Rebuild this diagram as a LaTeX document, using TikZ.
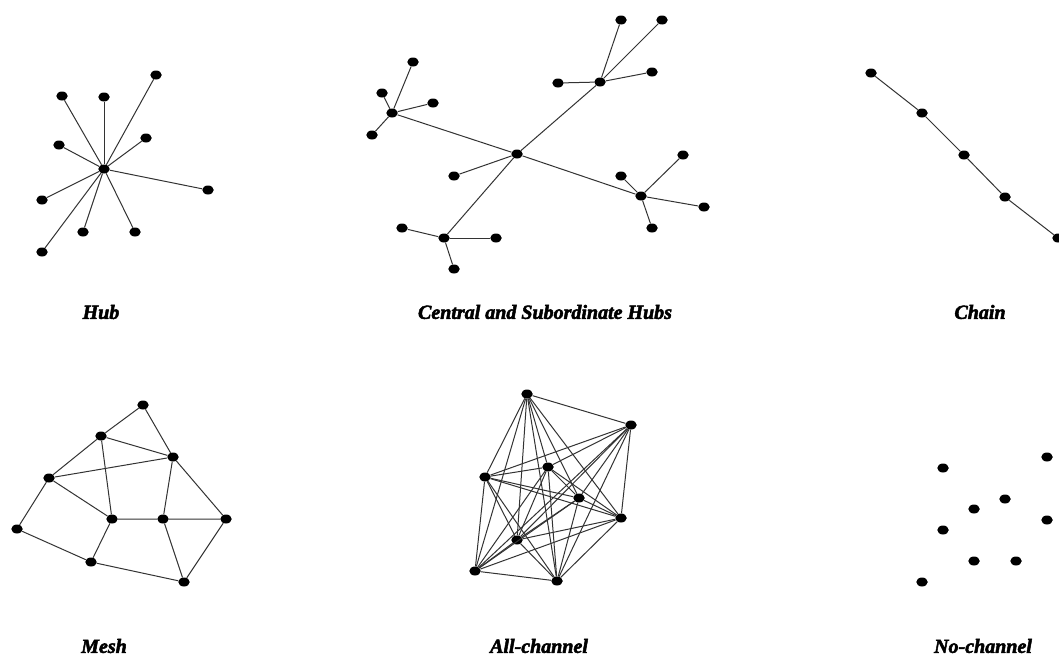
\documentclass[tikz,border=0pt]{standalone}
\usepackage{fontspec}
\setmainfont{Liberation Serif}
\newfontfamily\lblfont[FakeBold=2.5]{Liberation Serif}
\usetikzlibrary{shapes.geometric}
\begin{document}
\begin{tikzpicture}[x=1pt,y=-1pt,
  dot/.style={ellipse,fill=black,inner sep=0pt,minimum width=11.5pt,minimum height=9pt},
  link/.style={draw=black!80,line width=1pt},
  lbl/.style={font=\lblfont\fontsize{20}{20}\selectfont\bfseries\itshape,inner sep=0pt}]
\useasboundingbox[fill=white] (0,0) rectangle (1059,656);
\clip (0,0) rectangle (1059,656);
% ---------- Hub ----------
\node[dot] (hc) at (104,169) {};
\foreach \n/\x/\y in {h1/156/75,h2/62/96,h3/104/97,h4/146/138,h5/59/145,h6/208/190,h7/42/200,h8/83/232,h9/135/232,h10/42/252}{
  \node[dot] (\n) at (\x,\y) {};
  \draw[link] (hc) -- (\n);
}
% ---------- Central and subordinate hubs ----------
\node[dot] (c0) at (517,154) {};
\node[dot] (c1) at (454,176) {};
\node[dot] (ur) at (600,82) {};
\node[dot] (ul) at (392,113) {};
\node[dot] (ll) at (444,238) {};
\node[dot] (lr) at (641,196) {};
\draw[link] (ul) -- (c0) -- (lr);
\draw[link] (ll) -- (c0) -- (ur);
\draw[link] (c0) -- (c1);
\foreach \n/\x/\y in {ur1/621/20,ur2/662/20,ur3/652/72,ur4/558/83}{
  \node[dot] (\n) at (\x,\y) {}; \draw[link] (ur) -- (\n);}
\foreach \n/\x/\y in {ul1/413/62,ul2/382/93,ul3/433/103,ul4/372/135}{
  \node[dot] (\n) at (\x,\y) {}; \draw[link] (ul) -- (\n);}
\foreach \n/\x/\y in {ll1/402/228,ll2/496/238,ll3/454/269}{
  \node[dot] (\n) at (\x,\y) {}; \draw[link] (ll) -- (\n);}
\foreach \n/\x/\y in {lr1/621/176,lr2/683/155,lr3/704/207,lr4/652/228}{
  \node[dot] (\n) at (\x,\y) {}; \draw[link] (lr) -- (\n);}
% ---------- Chain ----------
\node[dot] (k1) at (871,73) {};
\node[dot] (k2) at (922,113) {};
\node[dot] (k3) at (964,155) {};
\node[dot] (k4) at (1005,197) {};
\node[dot] (k5) at (1058,238) {};
\draw[link] (k1) -- (k2) -- (k3) -- (k4) -- (k5);
% ---------- Mesh ----------
\node[dot] (mA) at (143,405) {};
\node[dot] (mB) at (101,436) {};
\node[dot] (mC) at (173,457) {};
\node[dot] (mD) at (49,478) {};
\node[dot] (mE) at (112,519) {};
\node[dot] (mF) at (163,519) {};
\node[dot] (mG) at (226,519) {};
\node[dot] (mH) at (17,529) {};
\node[dot] (mI) at (91,562) {};
\node[dot] (mJ) at (184,582) {};
\draw[link] (mD) -- (mB) -- (mA) -- (mC) -- (mB);
\draw[link] (mD) -- (mC);
\draw[link] (mB) -- (mE);
\draw[link] (mD) -- (mE) -- (mF) -- (mG);
\draw[link] (mC) -- (mF);
\draw[link] (mC) -- (mG) -- (mJ) -- (mF);
\draw[link] (mD) -- (mH) -- (mI) -- (mJ);
\draw[link] (mE) -- (mI);
% ---------- All-channel ----------
\foreach \n/\x/\y in {a1/527/394,a2/631/425,a3/548/467,a4/485/477,a5/579/498,a6/621/518,a7/517/540,a8/475/571,a9/557/581}{
  \node[dot] (\n) at (\x,\y) {};}
\foreach \i in {1,...,9}{
  \foreach \j in {1,...,9}{
    \ifnum\i<\j \draw[link] (a\i) -- (a\j); \fi
  }}
% ---------- No-channel ----------
\foreach \n/\x/\y in {n1/943/468,n2/1047/457,n3/1005/499,n4/974/509,n5/1047/520,n6/943/530,n7/974/561,n8/1016/561,n9/922/582}{
  \node[dot] (\n) at (\x,\y) {};}
% ---------- Labels ----------
\node[lbl] (tHub) at (101,312) {Hub};
\node[lbl] (tCen) at (545,312) {Central and Subordinate Hubs};
\node[lbl] (tCha) at (980,312) {Chain};
\node[lbl] (tMes) at (104,646) {Mesh};
\node[lbl] (tAll) at (539,646) {All-channel};
\node[lbl] (tNo) at (983,646) {No-channel};
\end{tikzpicture}
\end{document}
